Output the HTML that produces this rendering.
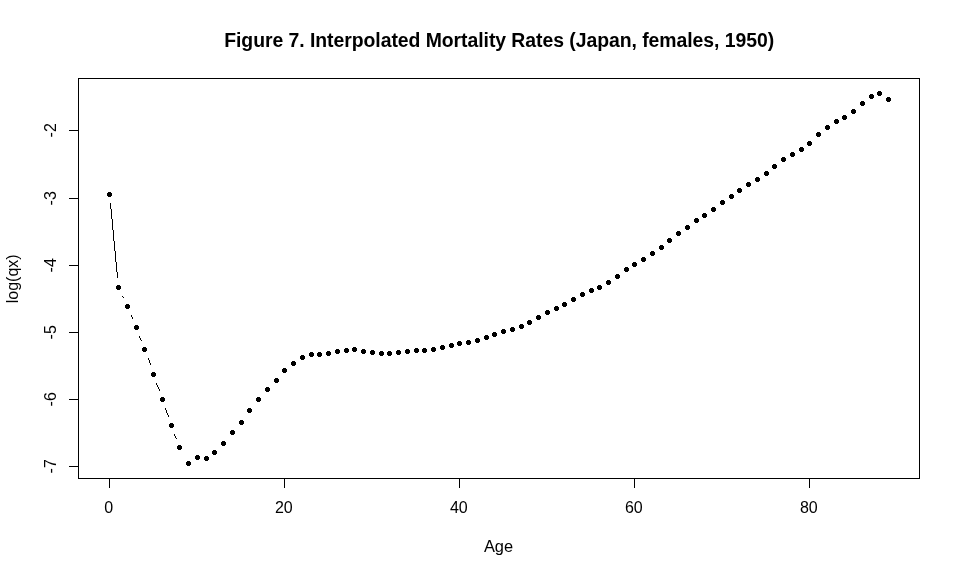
<!DOCTYPE html>
<html><head><meta charset="utf-8"><title>Figure 7</title>
<style>
html,body{margin:0;padding:0;background:#fff;}
svg{display:block;}
text{font-family:"Liberation Sans",Arial,sans-serif;fill:#000;}
</style></head>
<body>
<svg width="960" height="576" viewBox="0 0 960 576">
<rect x="0" y="0" width="960" height="576" fill="#fff"/>
<g shape-rendering="crispEdges" stroke="#000" stroke-width="1" fill="none">
<rect x="78.5" y="78.5" width="841" height="400"/>
<line x1="109.5" y1="478" x2="109.5" y2="488"/>
<line x1="284.5" y1="478" x2="284.5" y2="488"/>
<line x1="459.5" y1="478" x2="459.5" y2="488"/>
<line x1="634.5" y1="478" x2="634.5" y2="488"/>
<line x1="809.5" y1="478" x2="809.5" y2="488"/>
<line x1="69" y1="130.5" x2="78" y2="130.5"/>
<line x1="69" y1="198.5" x2="78" y2="198.5"/>
<line x1="69" y1="265.5" x2="78" y2="265.5"/>
<line x1="69" y1="332.5" x2="78" y2="332.5"/>
<line x1="69" y1="399.5" x2="78" y2="399.5"/>
<line x1="69" y1="466.5" x2="78" y2="466.5"/>
</g>
<g shape-rendering="crispEdges" fill="#000" stroke="none">
<rect x="110" y="203" width="1" height="6"/><rect x="111" y="209" width="1" height="10"/><rect x="112" y="219" width="1" height="11"/><rect x="113" y="230" width="1" height="11"/><rect x="114" y="241" width="1" height="10"/><rect x="115" y="251" width="1" height="11"/><rect x="116" y="262" width="1" height="10"/><rect x="117" y="272" width="1" height="6"/><rect x="122" y="296" width="1" height="1"/><rect x="123" y="297" width="1" height="1"/><rect x="131" y="315" width="1" height="2"/><rect x="132" y="317" width="1" height="2"/><rect x="139" y="336" width="1" height="2"/><rect x="140" y="338" width="1" height="2"/><rect x="141" y="340" width="1" height="1"/><rect x="148" y="358" width="1" height="2"/><rect x="149" y="360" width="1" height="3"/><rect x="150" y="363" width="1" height="2"/><rect x="156" y="383" width="1" height="2"/><rect x="157" y="385" width="1" height="2"/><rect x="158" y="387" width="1" height="2"/><rect x="159" y="389" width="1" height="2"/><rect x="165" y="408" width="1" height="2"/><rect x="166" y="410" width="1" height="3"/><rect x="167" y="413" width="1" height="2"/><rect x="168" y="415" width="1" height="2"/><rect x="174" y="434" width="1" height="2"/><rect x="175" y="436" width="1" height="2"/><rect x="176" y="438" width="1" height="1"/>
<rect x="108" y="192" width="3" height="5"/><rect x="107" y="193" width="5" height="3"/>
<rect x="117" y="285" width="3" height="5"/><rect x="116" y="286" width="5" height="3"/>
<rect x="126" y="304" width="3" height="5"/><rect x="125" y="305" width="5" height="3"/>
<rect x="135" y="325" width="3" height="5"/><rect x="134" y="326" width="5" height="3"/>
<rect x="143" y="347" width="3" height="5"/><rect x="142" y="348" width="5" height="3"/>
<rect x="152" y="372" width="3" height="5"/><rect x="151" y="373" width="5" height="3"/>
<rect x="161" y="397" width="3" height="5"/><rect x="160" y="398" width="5" height="3"/>
<rect x="170" y="423" width="3" height="5"/><rect x="169" y="424" width="5" height="3"/>
<rect x="178" y="445" width="3" height="5"/><rect x="177" y="446" width="5" height="3"/>
<rect x="187" y="461" width="3" height="5"/><rect x="186" y="462" width="5" height="3"/>
<rect x="196" y="455" width="3" height="5"/><rect x="195" y="456" width="5" height="3"/>
<rect x="205" y="456" width="3" height="5"/><rect x="204" y="457" width="5" height="3"/>
<rect x="213" y="450" width="3" height="5"/><rect x="212" y="451" width="5" height="3"/>
<rect x="222" y="441" width="3" height="5"/><rect x="221" y="442" width="5" height="3"/>
<rect x="231" y="430" width="3" height="5"/><rect x="230" y="431" width="5" height="3"/>
<rect x="240" y="420" width="3" height="5"/><rect x="239" y="421" width="5" height="3"/>
<rect x="248" y="408" width="3" height="5"/><rect x="247" y="409" width="5" height="3"/>
<rect x="257" y="397" width="3" height="5"/><rect x="256" y="398" width="5" height="3"/>
<rect x="266" y="387" width="3" height="5"/><rect x="265" y="388" width="5" height="3"/>
<rect x="275" y="378" width="3" height="5"/><rect x="274" y="379" width="5" height="3"/>
<rect x="283" y="368" width="3" height="5"/><rect x="282" y="369" width="5" height="3"/>
<rect x="292" y="361" width="3" height="5"/><rect x="291" y="362" width="5" height="3"/>
<rect x="301" y="355" width="3" height="5"/><rect x="300" y="356" width="5" height="3"/>
<rect x="310" y="352" width="3" height="5"/><rect x="309" y="353" width="5" height="3"/>
<rect x="318" y="352" width="3" height="5"/><rect x="317" y="353" width="5" height="3"/>
<rect x="327" y="351" width="3" height="5"/><rect x="326" y="352" width="5" height="3"/>
<rect x="336" y="349" width="3" height="5"/><rect x="335" y="350" width="5" height="3"/>
<rect x="345" y="348" width="3" height="5"/><rect x="344" y="349" width="5" height="3"/>
<rect x="353" y="347" width="3" height="5"/><rect x="352" y="348" width="5" height="3"/>
<rect x="362" y="349" width="3" height="5"/><rect x="361" y="350" width="5" height="3"/>
<rect x="371" y="350" width="3" height="5"/><rect x="370" y="351" width="5" height="3"/>
<rect x="380" y="351" width="3" height="5"/><rect x="379" y="352" width="5" height="3"/>
<rect x="388" y="351" width="3" height="5"/><rect x="387" y="352" width="5" height="3"/>
<rect x="397" y="350" width="3" height="5"/><rect x="396" y="351" width="5" height="3"/>
<rect x="406" y="349" width="3" height="5"/><rect x="405" y="350" width="5" height="3"/>
<rect x="415" y="348" width="3" height="5"/><rect x="414" y="349" width="5" height="3"/>
<rect x="423" y="348" width="3" height="5"/><rect x="422" y="349" width="5" height="3"/>
<rect x="432" y="347" width="3" height="5"/><rect x="431" y="348" width="5" height="3"/>
<rect x="441" y="345" width="3" height="5"/><rect x="440" y="346" width="5" height="3"/>
<rect x="450" y="343" width="3" height="5"/><rect x="449" y="344" width="5" height="3"/>
<rect x="458" y="341" width="3" height="5"/><rect x="457" y="342" width="5" height="3"/>
<rect x="467" y="340" width="3" height="5"/><rect x="466" y="341" width="5" height="3"/>
<rect x="476" y="338" width="3" height="5"/><rect x="475" y="339" width="5" height="3"/>
<rect x="485" y="335" width="3" height="5"/><rect x="484" y="336" width="5" height="3"/>
<rect x="493" y="332" width="3" height="5"/><rect x="492" y="333" width="5" height="3"/>
<rect x="502" y="329" width="3" height="5"/><rect x="501" y="330" width="5" height="3"/>
<rect x="511" y="327" width="3" height="5"/><rect x="510" y="328" width="5" height="3"/>
<rect x="520" y="324" width="3" height="5"/><rect x="519" y="325" width="5" height="3"/>
<rect x="528" y="320" width="3" height="5"/><rect x="527" y="321" width="5" height="3"/>
<rect x="537" y="315" width="3" height="5"/><rect x="536" y="316" width="5" height="3"/>
<rect x="546" y="310" width="3" height="5"/><rect x="545" y="311" width="5" height="3"/>
<rect x="555" y="306" width="3" height="5"/><rect x="554" y="307" width="5" height="3"/>
<rect x="563" y="302" width="3" height="5"/><rect x="562" y="303" width="5" height="3"/>
<rect x="572" y="297" width="3" height="5"/><rect x="571" y="298" width="5" height="3"/>
<rect x="581" y="292" width="3" height="5"/><rect x="580" y="293" width="5" height="3"/>
<rect x="590" y="288" width="3" height="5"/><rect x="589" y="289" width="5" height="3"/>
<rect x="598" y="285" width="3" height="5"/><rect x="597" y="286" width="5" height="3"/>
<rect x="607" y="280" width="3" height="5"/><rect x="606" y="281" width="5" height="3"/>
<rect x="616" y="274" width="3" height="5"/><rect x="615" y="275" width="5" height="3"/>
<rect x="625" y="267" width="3" height="5"/><rect x="624" y="268" width="5" height="3"/>
<rect x="633" y="262" width="3" height="5"/><rect x="632" y="263" width="5" height="3"/>
<rect x="642" y="257" width="3" height="5"/><rect x="641" y="258" width="5" height="3"/>
<rect x="651" y="251" width="3" height="5"/><rect x="650" y="252" width="5" height="3"/>
<rect x="660" y="245" width="3" height="5"/><rect x="659" y="246" width="5" height="3"/>
<rect x="668" y="238" width="3" height="5"/><rect x="667" y="239" width="5" height="3"/>
<rect x="677" y="231" width="3" height="5"/><rect x="676" y="232" width="5" height="3"/>
<rect x="686" y="225" width="3" height="5"/><rect x="685" y="226" width="5" height="3"/>
<rect x="695" y="218" width="3" height="5"/><rect x="694" y="219" width="5" height="3"/>
<rect x="703" y="213" width="3" height="5"/><rect x="702" y="214" width="5" height="3"/>
<rect x="712" y="207" width="3" height="5"/><rect x="711" y="208" width="5" height="3"/>
<rect x="721" y="200" width="3" height="5"/><rect x="720" y="201" width="5" height="3"/>
<rect x="730" y="194" width="3" height="5"/><rect x="729" y="195" width="5" height="3"/>
<rect x="738" y="188" width="3" height="5"/><rect x="737" y="189" width="5" height="3"/>
<rect x="747" y="182" width="3" height="5"/><rect x="746" y="183" width="5" height="3"/>
<rect x="756" y="177" width="3" height="5"/><rect x="755" y="178" width="5" height="3"/>
<rect x="765" y="171" width="3" height="5"/><rect x="764" y="172" width="5" height="3"/>
<rect x="773" y="164" width="3" height="5"/><rect x="772" y="165" width="5" height="3"/>
<rect x="782" y="157" width="3" height="5"/><rect x="781" y="158" width="5" height="3"/>
<rect x="791" y="152" width="3" height="5"/><rect x="790" y="153" width="5" height="3"/>
<rect x="800" y="147" width="3" height="5"/><rect x="799" y="148" width="5" height="3"/>
<rect x="808" y="141" width="3" height="5"/><rect x="807" y="142" width="5" height="3"/>
<rect x="817" y="132" width="3" height="5"/><rect x="816" y="133" width="5" height="3"/>
<rect x="826" y="125" width="3" height="5"/><rect x="825" y="126" width="5" height="3"/>
<rect x="835" y="119" width="3" height="5"/><rect x="834" y="120" width="5" height="3"/>
<rect x="843" y="115" width="3" height="5"/><rect x="842" y="116" width="5" height="3"/>
<rect x="852" y="109" width="3" height="5"/><rect x="851" y="110" width="5" height="3"/>
<rect x="861" y="101" width="3" height="5"/><rect x="860" y="102" width="5" height="3"/>
<rect x="870" y="94" width="3" height="5"/><rect x="869" y="95" width="5" height="3"/>
<rect x="878" y="91" width="3" height="5"/><rect x="877" y="92" width="5" height="3"/>
<rect x="887" y="97" width="3" height="5"/><rect x="886" y="98" width="5" height="3"/>
</g>
<text x="499.2" y="47" font-size="19.4" font-weight="bold" text-anchor="middle" textLength="550" lengthAdjust="spacing">Figure 7. Interpolated Mortality Rates (Japan, females, 1950)</text>
<text x="108.8" y="513" font-size="16" text-anchor="middle">0</text>
<text x="283.8" y="513" font-size="16" text-anchor="middle">20</text>
<text x="458.8" y="513" font-size="16" text-anchor="middle">40</text>
<text x="633.8" y="513" font-size="16" text-anchor="middle">60</text>
<text x="808.8" y="513" font-size="16" text-anchor="middle">80</text>
<text transform="translate(56.25,130.3) rotate(-90)" font-size="16" text-anchor="middle">-2</text>
<text transform="translate(56.25,198.3) rotate(-90)" font-size="16" text-anchor="middle">-3</text>
<text transform="translate(56.25,265.3) rotate(-90)" font-size="16" text-anchor="middle">-4</text>
<text transform="translate(56.25,332.3) rotate(-90)" font-size="16" text-anchor="middle">-5</text>
<text transform="translate(56.25,399.3) rotate(-90)" font-size="16" text-anchor="middle">-6</text>
<text transform="translate(56.25,466.3) rotate(-90)" font-size="16" text-anchor="middle">-7</text>
<text x="498.5" y="551.6" font-size="16.4" text-anchor="middle">Age</text>
<text transform="translate(17.5,278.8) rotate(-90)" font-size="16" text-anchor="middle">log(qx)</text>
</svg>
</body></html>
